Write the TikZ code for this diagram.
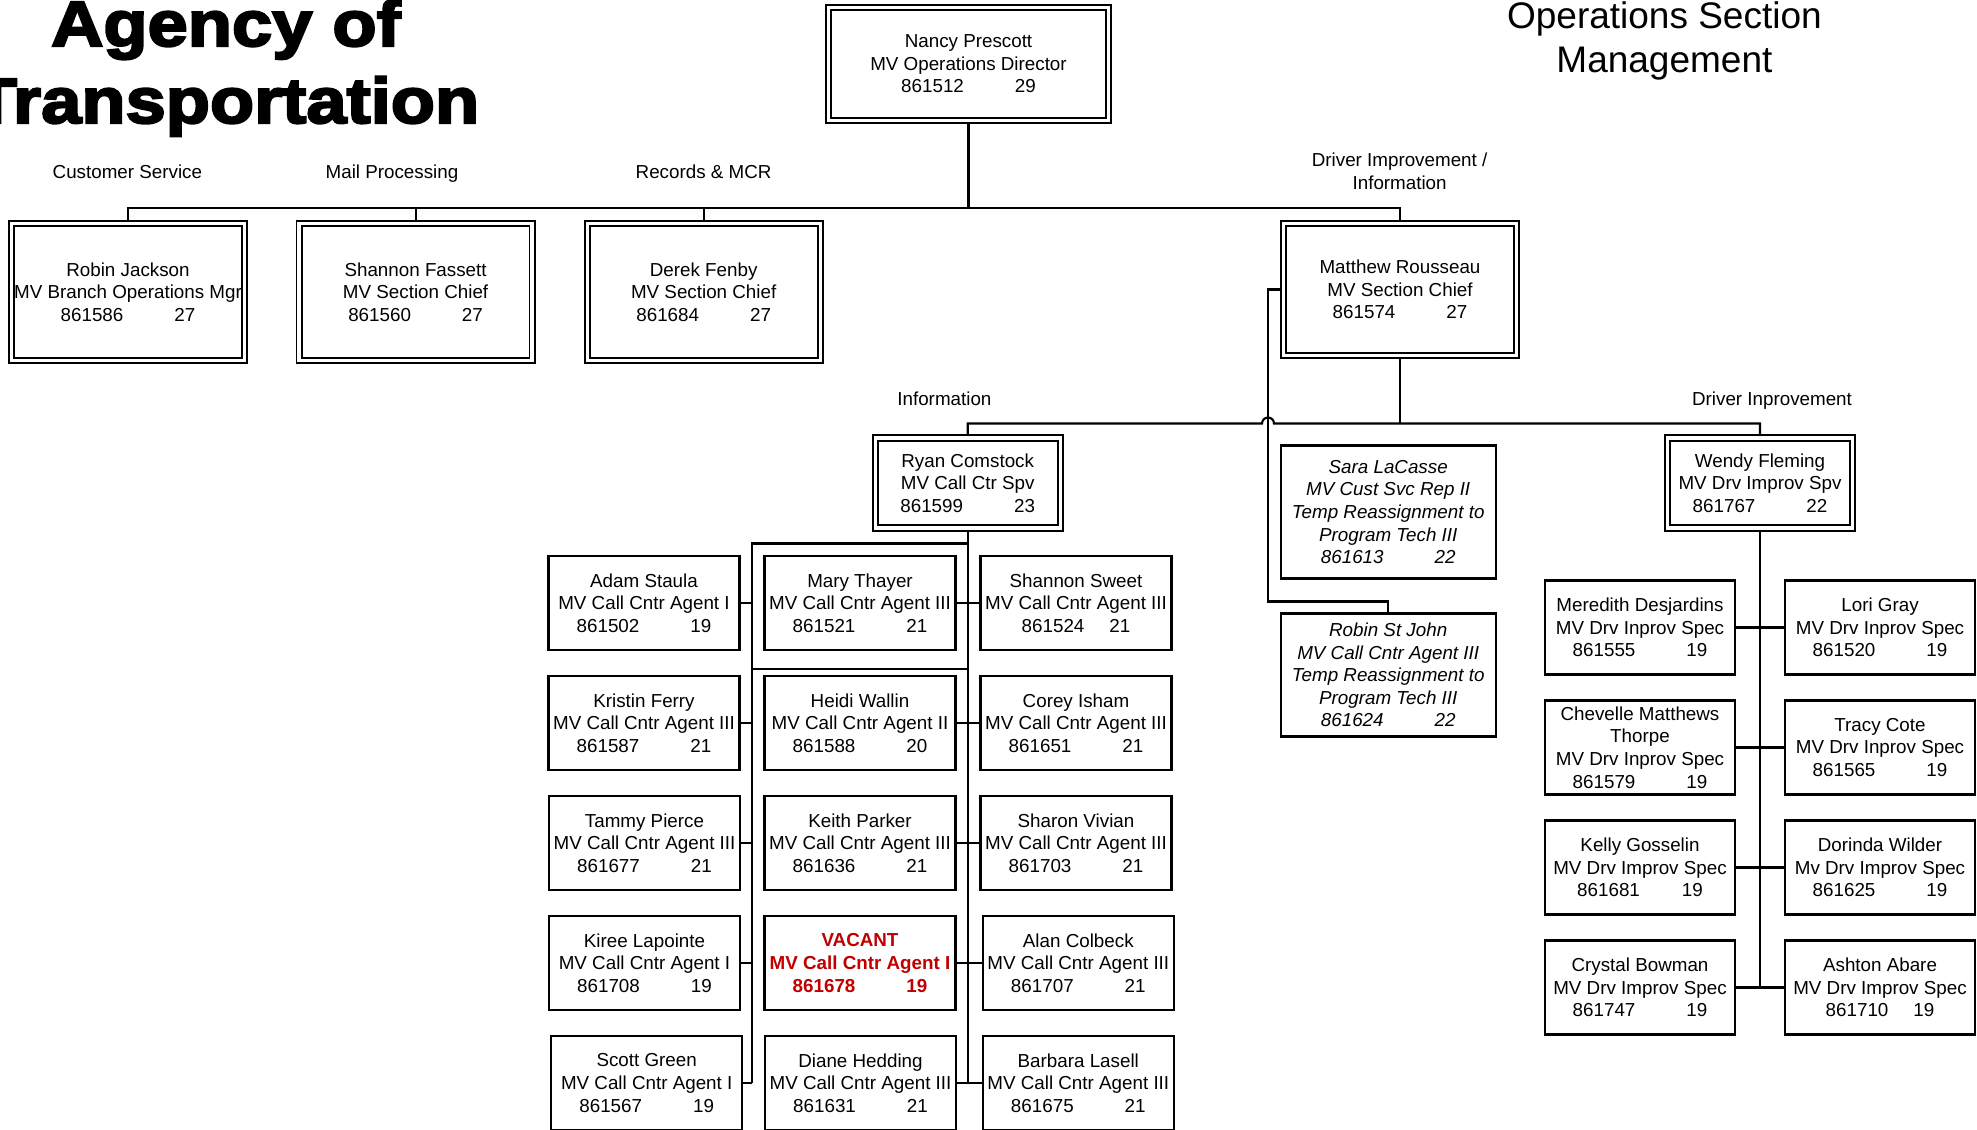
\documentclass[tikz,border=0pt]{standalone}
\usepackage{fontspec}
\setmainfont{Liberation Sans}
\newfontfamily\titlefont{Liberation Sans Bold}[FakeStretch=1.13,FakeBold=3.5]
\pgfdeclarelayer{background}
\pgfsetlayers{background,main}
\definecolor{vacred}{RGB}{192,0,0}
\newcommand{\boxfont}{\fontsize{18.8}{22.6}\selectfont}
\newcommand{\posn}[3][51pt]{#2\hspace*{#1}#3}
\tikzstyle{staff}=[draw,line width=2.1pt,inner sep=0pt,align=center,font=\boxfont,minimum width=191pt,minimum height=94pt]
\tikzstyle{chief}=[draw,line width=1.9pt,double,double distance=3.4pt,inner sep=0pt,align=center,font=\boxfont]
\tikzstyle{temp}=[staff,font=\boxfont\itshape,minimum width=215pt]
\tikzstyle{link}=[draw,line width=2.1pt]
\tikzstyle{heading}=[font=\boxfont,anchor=base,inner sep=0pt]

\begin{document}
\begin{tikzpicture}[x=1pt,y=-1pt]
				\useasboundingbox (0,0) rectangle (1977,1129);

				% Titles and section headings
				\node[font=\titlefont\fontsize{64}{77}\selectfont,align=center,inner sep=0pt] (agency) at (226,67.9) {Agency of\\Transportation};
				\node[font=\fontsize{37}{44}\selectfont,align=center,inner sep=0pt] (section) at (1664.4,40.6) {Operations Section\\Management};
				\foreach \pos/\name/\label in {{(127.4,178)/hcust/Customer Service}, {(392,178)/hmail/Mail Processing},
										{(703.6,178)/hrec/Records \& MCR}, {(944.4,405.5)/hinfo/Information}, {(1772,405.5)/hdrv/Driver Inprovement}}
				\node[heading] (\name) at \pos {\label};
				\node[font=\boxfont,align=center,inner sep=0pt] (hdrvinfo) at (1399.6,171.4) {Driver Improvement /\\Information};

				% Director and section chiefs
				\node[chief,minimum width=280pt,minimum height=113pt] (nancy) at (968.5,64) {Nancy Prescott\\MV Operations Director\\\posn{861512}{29}};
				\foreach \pos/\name/\who in {{(128,292)/robin/{Robin Jackson\\MV Branch Operations Mgr\\\posn{861586}{27}}},
										{(415.6,292)/shannonf/{Shannon Fassett\\MV Section Chief\\\posn{861560}{27}}},
										{(703.7,292)/derek/{Derek Fenby\\MV Section Chief\\\posn{861684}{27}}}}
				\node[chief,minimum width=233pt,minimum height=137pt] (\name) at \pos {\who};
				\node[chief,minimum width=233pt,minimum height=132pt] (matthew) at (1400,289.5) {Matthew Rousseau\\MV Section Chief\\\posn{861574}{27}};

				% Supervisors and temporary staff
				\foreach \pos/\name/\who in {{(967.7,483)/ryan/{Ryan Comstock\\MV Call Ctr Spv\\\posn{861599}{23}}},
										{(1760,483)/wendy/{Wendy Fleming\\MV Drv Improv Spv\\\posn{861767}{22}}}}
				\node[chief,minimum width=185pt,minimum height=90pt] (\name) at \pos {\who};
				\node[temp,minimum height=133pt] (sara) at (1388.2,512) {Sara LaCasse\\MV Cust Svc Rep II\\Temp Reassignment to\\Program Tech III\\\posn{861613}{22}};
				\node[temp,minimum height=123pt] (robinsj) at (1388.2,675) {Robin St John\\MV Call Cntr Agent III\\Temp Reassignment to\\Program Tech III\\\posn{861624}{22}};

				% Information team
				\foreach \pos/\name/\who in {{(644,603)/adam/{Adam Staula\\MV Call Cntr Agent I\\\posn{861502}{19}}},
										{(860,603)/mary/{Mary Thayer\\MV Call Cntr Agent III\\\posn{861521}{21}}},
										{(1076,603)/shannons/{Shannon Sweet\\MV Call Cntr Agent III\\\posn[25pt]{861524}{21}}},
										{(644,723)/kristin/{Kristin Ferry\\MV Call Cntr Agent III\\\posn{861587}{21}}},
										{(860,723)/heidi/{Heidi Wallin\\MV Call Cntr Agent II\\\posn{861588}{20}}},
										{(1076,723)/corey/{Corey Isham\\MV Call Cntr Agent III\\\posn{861651}{21}}},
										{(644.5,843)/tammy/{Tammy Pierce\\MV Call Cntr Agent III\\\posn{861677}{21}}},
										{(860,843)/keith/{Keith Parker\\MV Call Cntr Agent III\\\posn{861636}{21}}},
										{(1076,843)/sharon/{Sharon Vivian\\MV Call Cntr Agent III\\\posn{861703}{21}}},
										{(644.5,963)/kiree/{Kiree Lapointe\\MV Call Cntr Agent I\\\posn{861708}{19}}},
										{(1078.3,963)/alan/{Alan Colbeck\\MV Call Cntr Agent III\\\posn{861707}{21}}},
										{(646.7,1083)/scott/{Scott Green\\MV Call Cntr Agent I\\\posn{861567}{19}}},
										{(860.5,1083)/diane/{Diane Hedding\\MV Call Cntr Agent III\\\posn{861631}{21}}},
										{(1078.3,1083)/barbara/{Barbara Lasell\\MV Call Cntr Agent III\\\posn{861675}{21}}}}
				\node[staff] (\name) at \pos {\who};
				\node[staff,text=vacred,font=\boxfont\bfseries] (vacant) at (860,963) {VACANT\\MV Call Cntr Agent I\\\posn{861678}{19}};

				% Driver improvement team
				\foreach \pos/\name/\who in {{(1640,627.5)/meredith/{Meredith Desjardins\\MV Drv Inprov Spec\\\posn{861555}{19}}},
										{(1880,627.5)/lori/{Lori Gray\\MV Drv Inprov Spec\\\posn{861520}{19}}},
										{(1640,747.5)/chevelle/{Chevelle Matthews\\Thorpe\\MV Drv Inprov Spec\\\posn{861579}{19}}},
										{(1880,747.5)/tracy/{Tracy Cote\\MV Drv Inprov Spec\\\posn{861565}{19}}},
										{(1640,867.5)/kelly/{Kelly Gosselin\\MV Drv Improv Spec\\\posn[42pt]{861681}{19}}},
										{(1880,867.5)/dorinda/{Dorinda Wilder\\Mv Drv Improv Spec\\\posn{861625}{19}}},
										{(1640,987.5)/crystal/{Crystal Bowman\\MV Drv Improv Spec\\\posn{861747}{19}}},
										{(1880,987.5)/ashton/{Ashton Abare\\MV Drv Improv Spec\\\posn[25pt]{861710}{19}}}}
				\node[staff,minimum width=190pt] (\name) at \pos {\who};

				% Connectors go behind the boxes
				\begin{pgfonlayer}{background}
				\coordinate (bus1) at (968.5,208);
				\path[link] (nancy) -- (bus1);
				\path[link] (robin.north) |- (bus1) -| (matthew.north);
				\foreach \name in {shannonf,derek}
				\path[link] (\name.north) -- (\name.north |- bus1);

				\coordinate (bus2) at (1400,423.5);
				\coordinate (hop) at (1268,423.5);
				\coordinate (side) at (1268,601.5);
				\path[link] (matthew.south) -- (bus2);
				\path[link] (ryan.north) |- ([xshift=-6pt]hop) arc[start angle=180,end angle=0,radius=6pt] -- (bus2) -| (wendy.north);
				\path[link] (matthew.west) -| (side) -| (robinsj.north);

				\coordinate (split) at (967.7,543.5);
				\coordinate (trunk) at (752.3,543.5);
				\coordinate (rowgap) at (0,669);
				\path[link] (ryan.south) -- (ryan.south |- diane.east);
				\path[link] (split) -- (trunk) -- (trunk |- scott.east);
				\path[link] (trunk |- rowgap) -- (split |- rowgap);
				\foreach \name in {adam,kristin,tammy,kiree,scott}
				\path[link] (\name.east) -- (trunk |- \name.east);
				\foreach \name in {mary,heidi,keith,vacant,diane}
				\path[link] (\name.east) -- (split |- \name.east);
				\foreach \name in {shannons,corey,sharon,alan,barbara}
				\path[link] (\name.west) -- (split |- \name.west);

				\path[link] (wendy.south) -- (wendy.south |- crystal.east);
				\foreach \name in {meredith,chevelle,kelly,crystal}
				\path[link] (\name.east) -- (wendy.south |- \name.east);
				\foreach \name in {lori,tracy,dorinda,ashton}
				\path[link] (\name.west) -- (wendy.south |- \name.west);
				\end{pgfonlayer}

			\end{tikzpicture}
\end{document}
